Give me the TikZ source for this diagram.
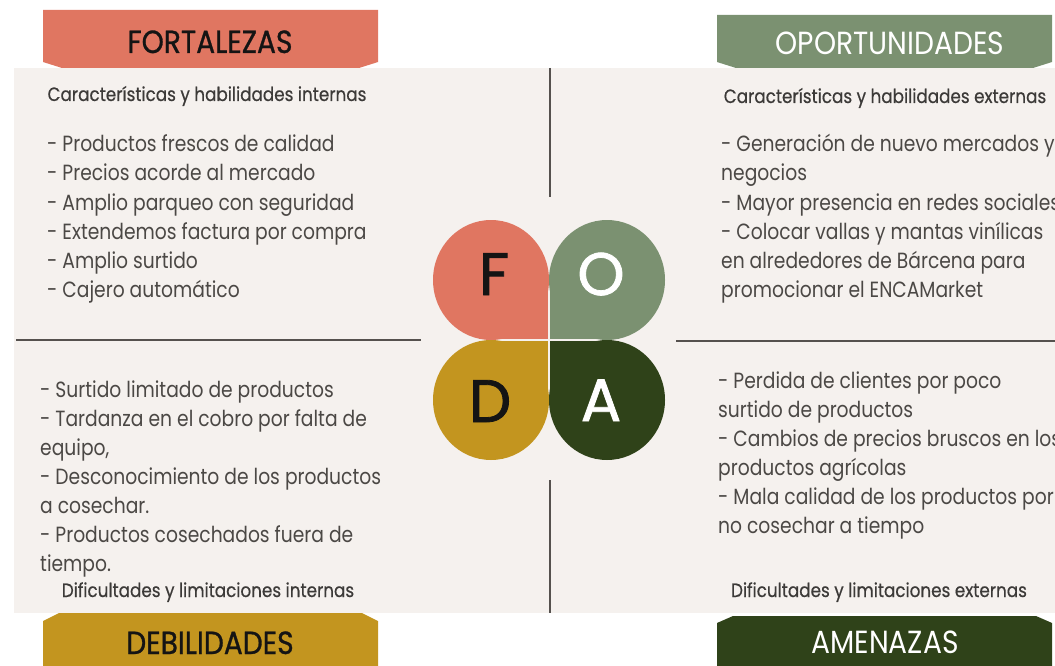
\documentclass[tikz,border=0pt]{standalone}
\usepackage{fontspec}
\setmainfont{Poppins}
\newfontfamily\bodyfont[FakeStretch=0.85]{Poppins}
\newfontfamily\subfont[FakeStretch=0.87,FakeBold=0.5]{Poppins}
\newfontfamily\headfont[FakeStretch=0.88]{Poppins}
\newfontfamily\headboldfont[FakeStretch=0.88,FakeBold=0.9]{Poppins}
\newfontfamily\letterfont[FakeBold=1.3]{Poppins}
\definecolor{bgpanel}{HTML}{F5F1EE}
\definecolor{fcol}{HTML}{E07661}
\definecolor{ocol}{HTML}{7B9171}
\definecolor{dcol}{HTML}{C3951F}
\definecolor{acol}{HTML}{2F4219}
\definecolor{txtgray}{HTML}{4B4845}
\definecolor{subgray}{HTML}{3C3A38}
\definecolor{rulegray}{HTML}{55514E}
\definecolor{inkblack}{HTML}{141414}
\begin{document}
\begin{tikzpicture}[x=1pt,y=-1pt,
  bodytext/.style={anchor=base west, inner sep=0pt, text=txtgray, font=\bodyfont\fontsize{22}{29}\selectfont},
  subtext/.style={anchor=base, inner sep=0pt, text=subgray, font=\subfont\fontsize{19.3}{22}\selectfont},
  headtext/.style={anchor=base, inner sep=0pt, font=\headfont\fontsize{32}{36}\selectfont},
  headboldtext/.style={anchor=base, inner sep=0pt, text=inkblack, font=\headboldfont\fontsize{32}{36}\selectfont},
  lettertext/.style={anchor=base, inner sep=0pt, font=\letterfont\fontsize{60}{60}\selectfont},
  sepline/.style={draw=rulegray, line width=1.6pt}
]
\useasboundingbox (0,0) rectangle (1055,666);
\clip (0,0) rectangle (1055,666);
\fill[white] (0,0) rectangle (1055,666);
\fill[bgpanel] (14,68) rectangle (1055,613);

% banners
\fill[fcol] (43,10) -- (378,10) -- (378,62) -- (359,68) -- (62,68) -- (43,62) -- cycle;
\fill[ocol] (717,15) -- (1052,15) -- (1052,62) -- (1033,68) -- (736,68) -- (717,62) -- cycle;
\fill[dcol] (43,621) -- (59,613) -- (362,613) -- (378,621) -- (378,670) -- (43,670) -- cycle;
\fill[acol] (717,623) -- (733,616) -- (1036,616) -- (1052,623) -- (1052,670) -- (717,670) -- cycle;
\node[headboldtext] (hf) at (210,53) {FORTALEZAS};
\node[headtext, text=white] (ho) at (890,55) {OPORTUNIDADES};
\node[headboldtext] (hd) at (210,654) {DEBILIDADES};
\node[headtext, text=white] (ha) at (885,653) {AMENAZAS};

% subheaders
\node[subtext] (sf) at (207,101) {Características y habilidades internas};
\node[subtext] (so) at (885,103) {Características y habilidades externas};
\node[subtext] (sd) at (208,597) {Dificultades y limitaciones internas};
\node[subtext] (sa) at (879,597) {Dificultades y limitaciones externas};

% separator lines
\draw[sepline] (550,68) -- (550,197);
\draw[sepline] (550,480) -- (550,613);
\draw[sepline] (16,340) -- (421,340);
\draw[sepline] (676,341) -- (1055,341);

% petals
\fill[fcol] (491,280) ellipse [x radius=58, y radius=60];
\fill[fcol] (491,280) rectangle (548.3,339.3);
\fill[ocol] (607,280) ellipse [x radius=58, y radius=60];
\fill[ocol] (549.7,280) rectangle (607,339.3);
\fill[dcol] (491,400) ellipse [x radius=58, y radius=60];
\fill[dcol] (491,340.7) rectangle (548.3,400);
\fill[acol] (607,400) ellipse [x radius=58, y radius=60];
\fill[acol] (549.7,340.7) rectangle (607,400);
\node[lettertext, text=inkblack] (lf) at (494,295) {F};
\node[lettertext, text=white] (lo) at (601,295) {O};
\node[lettertext, text=inkblack] (ld) at (490,422) {D};
\node[lettertext, text=white] (la) at (601,421) {A};

% quadrant texts
\foreach \t [count=\i] in {- Productos frescos de calidad, - Precios acorde al mercado, - Amplio parqueo con seguridad, - Extendemos factura por compra, - Amplio surtido, - Cajero automático}
  \node[bodytext] (tf\i) at (47,{152+29*(\i-1)}) {\t};
\foreach \t [count=\i] in {- Generación de nuevo mercados y, negocios, - Mayor presencia en redes sociales, - Colocar vallas y mantas vinílicas, en alrededores de Bárcena para, promocionar el ENCAMarket}
  \node[bodytext] (to\i) at (721,{152+29*(\i-1)}) {\t};
\foreach \t [count=\i] in {- Surtido limitado de productos, - Tardanza en el cobro por falta de, {equipo,}, - Desconocimiento de los productos, a cosechar., - Productos cosechados fuera de, tiempo.}
  \node[bodytext] (td\i) at (40,{397+29*(\i-1)}) {\t};
\foreach \t [count=\i] in {- Perdida de clientes por poco, surtido de productos, - Cambios de precios bruscos en los, productos agrícolas, - Mala calidad de los productos por, no cosechar a tiempo}
  \node[bodytext] (ta\i) at (718,{388+29*(\i-1)}) {\t};
\end{tikzpicture}
\end{document}
